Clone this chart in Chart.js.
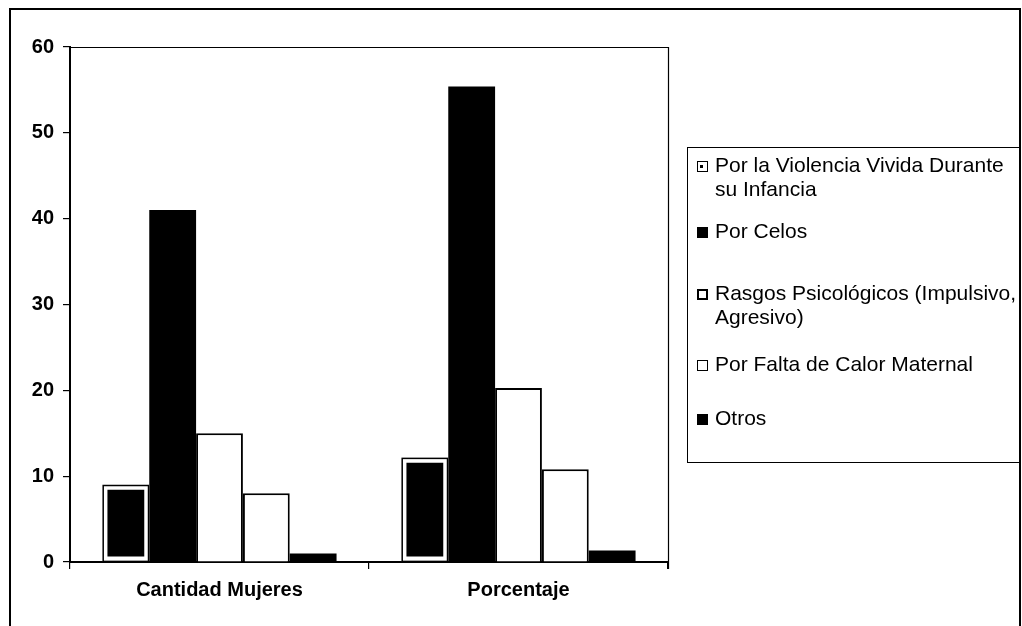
<!DOCTYPE html>
<html>
<head>
<meta charset="utf-8">
<script src="https://cdn.jsdelivr.net/npm/chart.js@4.4.1/dist/chart.umd.min.js"></script>
<style>
  html, body { margin: 0; padding: 0; background: #fff; }
  #wrap { position: relative; width: 1022px; height: 626px; overflow: hidden; }
  #c { position: absolute; left: 0; top: 0; }
  #legend {
    position: absolute; left: 687px; top: 147px; width: 333px; height: 316px;
    border: 1.5px solid #000; box-sizing: border-box;
    font-family: "Liberation Sans", Arial, sans-serif; font-size: 21px; color: #000;
  }
  .item { position: absolute; left: 27px; line-height: 24px; white-space: nowrap; }
  .mark { position: absolute; left: 9px; width: 11px; height: 11px; box-sizing: border-box; border: 1.5px solid #000; }
</style>
</head>
<body>
<div id="wrap">
  <canvas id="c" width="1022" height="626"></canvas>
  <div id="legend"></div>
</div>
<script>
const categories = ['Cantidad Mujeres', 'Porcentaje'];
const seriesNames = [
  ['Por la Violencia Vivida Durante', 'su Infancia'],
  ['Por Celos'],
  ['Rasgos Psicológicos (Impulsivo,', 'Agresivo)'],
  ['Por Falta de Calor Maternal'],
  ['Otros']
];
const violencia = [9, 12.16];
const celos = [41, 55.41];
const rasgos = [15, 20.27];
const falta = [8, 10.81];
const otros = [1, 1.35];
const yMin = 0, yMax = 60, yStep = 10;

const seriesValues = [violencia, celos, rasgos, falta, otros];
const fills = ['#000', '#000', '#fff', '#fff', '#000'];
const borders = ['#fff', '#000', '#000', '#000', '#000'];
const borderWidths = [5, 0, 2, 2, 0];

const datasets = seriesValues.map((vals, i) => ({
  label: seriesNames[i].join(' '),
  data: vals,
  backgroundColor: fills[i],
  borderColor: borders[i],
  borderWidth: borderWidths[i],
  borderSkipped: i === 0 ? false : 'start',
  categoryPercentage: 0.783,
  barPercentage: 1.0
}));

const framePlugin = {
  id: 'frame',
  beforeDraw(chart) {
    const ctx = chart.ctx;
    ctx.save();
    ctx.fillStyle = '#fff';
    ctx.fillRect(0, 0, chart.width, chart.height);
    ctx.restore();
  },
  afterDatasetsDraw(chart) {
    const ctx = chart.ctx;
    const meta = chart.getDatasetMeta(0);
    ctx.save();
    ctx.strokeStyle = '#000';
    ctx.lineWidth = 1.5;
    meta.data.forEach(el => {
      const p = el.getProps(['x', 'y', 'base', 'width'], true);
      ctx.strokeRect(p.x - p.width / 2 + 0.75, p.y + 0.75, p.width - 1.5, p.base - p.y - 0.75);
    });
    ctx.restore();
  },
  afterDraw(chart) {
    const ctx = chart.ctx;
    const a = chart.chartArea;
    ctx.save();
    ctx.strokeStyle = '#000';
    ctx.lineWidth = 1.2;
    ctx.beginPath();
    ctx.moveTo(a.left, a.top + 0.5);
    ctx.lineTo(a.right + 0.5, a.top + 0.5);
    ctx.lineTo(a.right + 0.5, a.bottom + 7);
    ctx.stroke();
    ctx.lineWidth = 2;
    ctx.strokeRect(10, 9, 1010, 700);
    ctx.restore();
  }
};

const tickFont = { family: '"Liberation Sans", Arial, sans-serif', size: 20, weight: 'bold' };

new Chart(document.getElementById('c'), {
  type: 'bar',
  data: { labels: categories, datasets },
  plugins: [framePlugin],
  options: {
    responsive: false,
    maintainAspectRatio: false,
    devicePixelRatio: 1,
    animation: false,
    layout: { padding: { left: 0, top: 47, right: 354, bottom: 0 } },
    plugins: { legend: { display: false }, tooltip: { enabled: false } },
    scales: {
      x: {
        grid: { display: true, drawOnChartArea: false, offset: true, color: '#000', tickLength: 7, lineWidth: 1.2 },
        border: { display: true, color: '#000', width: 2 },
        ticks: { color: '#000', padding: 9, font: tickFont },
        afterFit(s) { s.height = 64; }
      },
      y: {
        min: yMin, max: yMax,
        grid: { display: true, drawOnChartArea: false, color: '#000', tickLength: 7, lineWidth: 1.2 },
        border: { display: true, color: '#000', width: 2 },
        ticks: { stepSize: yStep, color: '#000', padding: 9, font: tickFont },
        afterFit(s) { s.width = 70; }
      }
    }
  }
});

// HTML legend built from series names
const legendTops = [5, 71, 133, 204, 258];
const markStyles = [
  'background:#fff;',
  'background:#000;',
  'background:#fff;border-width:2px;',
  'background:#fff;',
  'background:#000;'
];
const legend = document.getElementById('legend');
seriesNames.forEach((lines, i) => {
  const m = document.createElement('div');
  m.className = 'mark';
  m.style.cssText = markStyles[i] + 'top:' + (legendTops[i] + 8) + 'px;';
  if (i === 0) {
    const dot = document.createElement('div');
    dot.style.cssText = 'position:absolute;left:2px;top:3px;width:3px;height:3px;background:#000;';
    m.appendChild(dot);
  }
  legend.appendChild(m);
  const t = document.createElement('div');
  t.className = 'item';
  t.style.top = legendTops[i] + 'px';
  t.innerHTML = lines.join('<br>');
  legend.appendChild(t);
});
</script>
</body>
</html>
